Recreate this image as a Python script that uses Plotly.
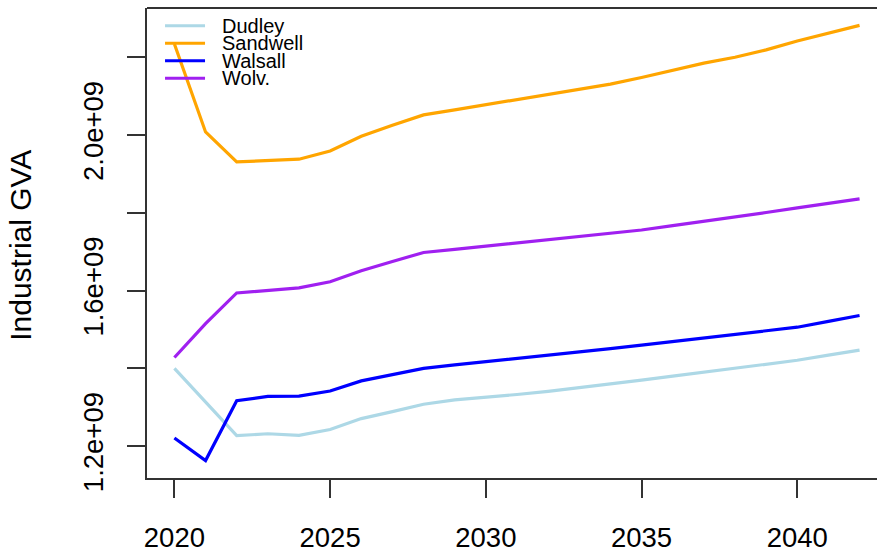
import plotly.graph_objects as go

# Industrial GVA projections by borough, 2020-2042
years = list(range(2020, 2043))

dudley = [1.400, 1.315, 1.227, 1.232, 1.228, 1.243, 1.271, 1.289, 1.308, 1.319,
          1.325, 1.333, 1.341, 1.350, 1.360, 1.370, 1.380, 1.390, 1.400, 1.410,
          1.421, 1.434, 1.447]
sandwell = [2.234, 2.008, 1.931, 1.934, 1.938, 1.959, 1.997, 2.025, 2.052, 2.065,
            2.078, 2.092, 2.106, 2.119, 2.131, 2.148, 2.166, 2.185, 2.200, 2.219,
            2.242, 2.263, 2.282]
walsall = [1.221, 1.163, 1.317, 1.328, 1.329, 1.342, 1.368, 1.385, 1.400, 1.409,
           1.417, 1.425, 1.433, 1.442, 1.451, 1.460, 1.469, 1.478, 1.487, 1.496,
           1.506, 1.521, 1.536]
wolv = [1.428, 1.515, 1.594, 1.600, 1.607, 1.623, 1.651, 1.675, 1.698, 1.706,
        1.714, 1.722, 1.731, 1.739, 1.747, 1.756, 1.767, 1.778, 1.790, 1.801,
        1.813, 1.825, 1.836]

series_names = ["Dudley", "Sandwell", "Walsall", "Wolv."]
series_values = [dudley, sandwell, walsall, wolv]
series_colors = ["#ADD8E6", "#FFA500", "#0000FF", "#A020F0"]

x_tick_vals = [2020, 2025, 2030, 2035, 2040]
y_tick_vals = [1.2e9, 1.4e9, 1.6e9, 1.8e9, 2.0e9, 2.2e9]
y_tick_text = ["1.2e+09", "", "1.6e+09", "", "2.0e+09", ""]

FONT = "Liberation Sans, Arial, sans-serif"
AXIS_COL = "#333333"

fig = go.Figure()
for name, vals, col in zip(series_names, series_values, series_colors):
    fig.add_trace(go.Scatter(
        x=years, y=[v * 1e9 for v in vals], mode="lines", name=name,
        line=dict(color=col, width=3.2), showlegend=False,
    ))

# R-style 4% padding around the data range
all_vals = [v * 1e9 for s in series_values for v in s]
ylo, yhi = min(all_vals), max(all_vals)
ypad = 0.04 * (yhi - ylo)

fig.update_layout(
    width=877, height=553,
    margin=dict(l=147, r=0, t=8, b=69),
    paper_bgcolor="white", plot_bgcolor="white",
    font=dict(family=FONT, color="#000000"),
    xaxis=dict(
        range=[2019.12, 2042.56], tickvals=x_tick_vals,
        ticks="outside", ticklen=18, tickwidth=1.5, tickcolor=AXIS_COL,
        showline=True, linecolor=AXIS_COL, linewidth=2,
        showgrid=False, zeroline=False,
        tickfont=dict(size=27.5, family=FONT, color="#000000"),
        ticklabelstandoff=16,
    ),
    yaxis=dict(
        range=[ylo - ypad, yhi + ypad], tickvals=y_tick_vals, ticktext=y_tick_text,
        ticks="outside", ticklen=18, tickwidth=1.5, tickcolor=AXIS_COL,
        showline=True, linecolor=AXIS_COL, linewidth=2,
        showgrid=False, zeroline=False, tickangle=-90,
        tickfont=dict(size=27.5, family=FONT, color="#000000"),
        ticklabelstandoff=13,
    ),
)

# top edge of the plot frame
fig.add_shape(type="line", xref="paper", yref="paper", x0=0, x1=1, y0=1, y1=1,
              line=dict(color=AXIS_COL, width=2))

# axis title
fig.add_annotation(text="Industrial GVA", xref="paper", yref="paper",
                   x=-0.1726, y=0.494, xanchor="center", yanchor="middle",
                   textangle=-90, showarrow=False,
                   font=dict(size=30, family=FONT, color="#000000"))

# compact legend in the top-left corner
leg_x0, leg_x1, leg_tx = 0.0247, 0.0795, 0.1000
leg_top, leg_step = 0.962, 0.0372
for i, (name, col) in enumerate(zip(series_names, series_colors)):
    yy = leg_top - i * leg_step
    fig.add_shape(type="line", xref="paper", yref="paper",
                  x0=leg_x0, x1=leg_x1, y0=yy, y1=yy,
                  line=dict(color=col, width=3))
    fig.add_annotation(text=name, xref="paper", yref="paper", x=leg_tx, y=yy,
                       xanchor="left", yanchor="middle", showarrow=False,
                       font=dict(size=20, family=FONT, color="#000000"))

fig.write_html("out.html")
